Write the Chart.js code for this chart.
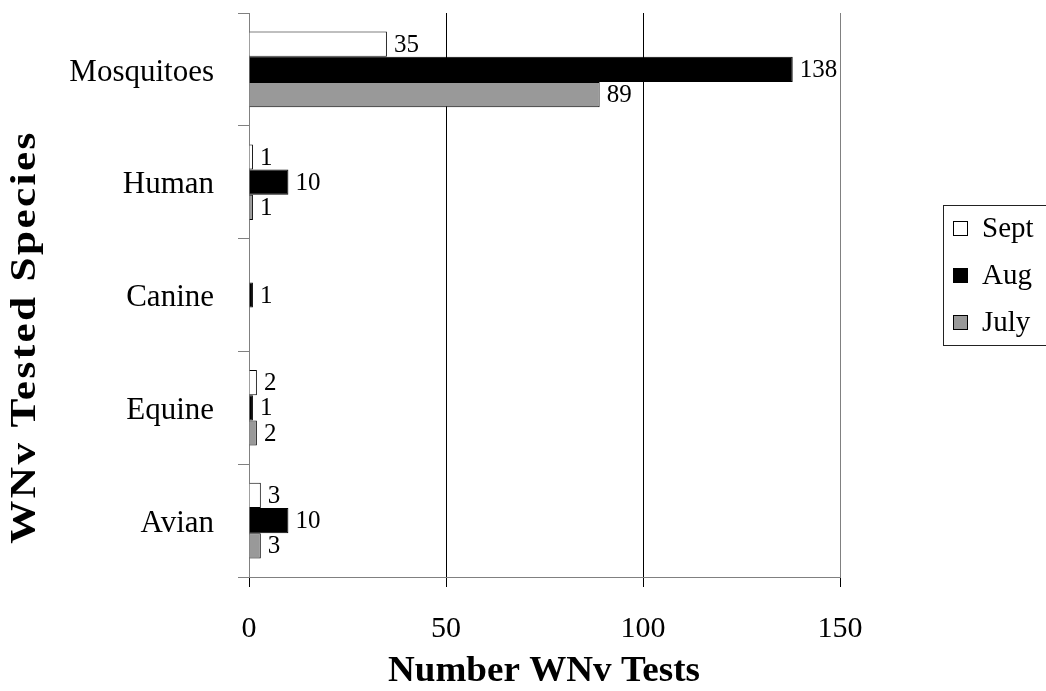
<!DOCTYPE html>
<html>
<head>
<meta charset="utf-8">
<script src="https://cdn.jsdelivr.net/npm/chart.js@4/dist/chart.umd.min.js"></script>
<style>
  html, body { margin: 0; padding: 0; background: #fff; }
  #wrap { position: relative; width: 1046px; height: 691px; }
</style>
</head>
<body>
<div id="wrap"><canvas id="wnv-chart"></canvas></div>
<script>
var categories = ['Mosquitoes', 'Human', 'Canine', 'Equine', 'Avian'];
var septValues = [35, 1, null, 2, 3];
var augValues = [138, 10, 1, 1, 10];
var julyValues = [89, 1, null, 2, 3];
var xTicks = [0, 50, 100, 150];

var serif = '"Liberation Serif", "Times New Roman", serif';

// value next to the end of each bar
var barLabels = {
    id: 'barLabels',
    afterDatasetsDraw(chart) {
        var ctx = chart.ctx;
        ctx.save();
        ctx.font = '25px ' + serif;
        ctx.fillStyle = '#000';
        ctx.textAlign = 'left';
        ctx.textBaseline = 'middle';
        chart.data.datasets.forEach((ds, i) => {
            var meta = chart.getDatasetMeta(i);
            meta.data.forEach((bar, j) => {
                var v = ds.data[j];
                if (v === null || v === undefined) return;
                ctx.fillText(String(v), bar.x + 7, bar.y + 1);
            });
        });
        ctx.restore();
    }
};

// boxed legend on the right, like the original
var boxLegend = {
    id: 'boxLegend',
    afterDraw(chart) {
        var ctx = chart.ctx;
        ctx.save();
        ctx.strokeStyle = '#222';
        ctx.lineWidth = 1;
        ctx.strokeRect(943.5, 205.5, 130, 140);
        ctx.font = '29px ' + serif;
        ctx.textBaseline = 'middle';
        chart.data.datasets.forEach((ds, i) => {
            var cy = 228 + i * 47;
            ctx.fillStyle = ds.backgroundColor;
            ctx.fillRect(953, cy - 7, 15, 15);
            ctx.strokeStyle = '#000';
            ctx.strokeRect(953.5, cy - 6.5, 14, 14);
            ctx.fillStyle = '#000';
            ctx.fillText(ds.label, 982, cy + 1);
        });
        ctx.restore();
    }
};

// axis titles (the original glyphs are a little wider than Liberation's)
var axisTitles = {
    id: 'axisTitles',
    afterDraw(chart) {
        var ctx = chart.ctx;
        ctx.save();
        ctx.fillStyle = '#000';
        ctx.textAlign = 'center';
        ctx.textBaseline = 'middle';
        ctx.font = 'bold 35px ' + serif;
        ctx.save();
        ctx.translate(544, 672);
        ctx.scale(1.06, 1);
        ctx.fillText('Number WNv Tests', 0, 0);
        ctx.restore();
        ctx.translate(26, 337);
        ctx.rotate(-Math.PI / 2);
        ctx.scale(1.2, 1);
        ctx.font = 'bold 36px ' + serif;
        ctx.letterSpacing = '2px';
        ctx.fillText('WNv Tested Species', 0, 0);
        ctx.restore();
    }
};

var ctx = document.getElementById('wnv-chart').getContext('2d');
var chart = new Chart(ctx, {
    type: 'bar',
    data: {
        labels: categories,
        datasets: [
            { label: 'Sept', data: septValues, backgroundColor: '#ffffff', borderColor: '#000', borderWidth: 1 },
            { label: 'Aug', data: augValues, backgroundColor: '#000000', borderColor: '#000', borderWidth: 1 },
            { label: 'July', data: julyValues, backgroundColor: '#999999', borderColor: '#000', borderWidth: 1 }
        ]
    },
    options: {
        indexAxis: 'y',
        responsive: true,
        maintainAspectRatio: false,
        animation: false,
        categoryPercentage: 0.67,
        barPercentage: 1,
        layout: { padding: { top: 13, right: 206, left: 0, bottom: 0 } },
        plugins: {
            legend: { display: false },
            tooltip: { enabled: false }
        },
        scales: {
            x: {
                min: 0,
                max: 150,
                afterBuildTicks: (scale) => { scale.ticks = xTicks.map(v => ({ value: v })); },
                afterFit: (scale) => { scale.height = 114; },
                grid: {
                    color: (c) => (c.tick && (c.tick.value === 0 || c.tick.value === 150)) ? '#808080' : '#000',
                    tickColor: '#000',
                    tickLength: 10,
                    lineWidth: 1
                },
                border: { color: '#808080', width: 1 },
                ticks: {
                    color: '#000',
                    padding: 24,
                    font: { family: serif, size: 30 }
                }
            },
            y: {
                afterFit: (scale) => {
                    scale.width = 249;
                    scale.paddingTop = 0;
                    scale.paddingBottom = 0;
                },
                grid: {
                    drawOnChartArea: false,
                    offset: true,
                    tickColor: '#808080',
                    tickLength: 11
                },
                border: { color: '#808080', width: 1 },
                ticks: {
                    color: '#000',
                    padding: 24,
                    labelOffset: 3,
                    font: { family: serif, size: 31 }
                }
            }
        }
    },
    plugins: [barLabels, boxLegend, axisTitles]
});
</script>
</body>
</html>
